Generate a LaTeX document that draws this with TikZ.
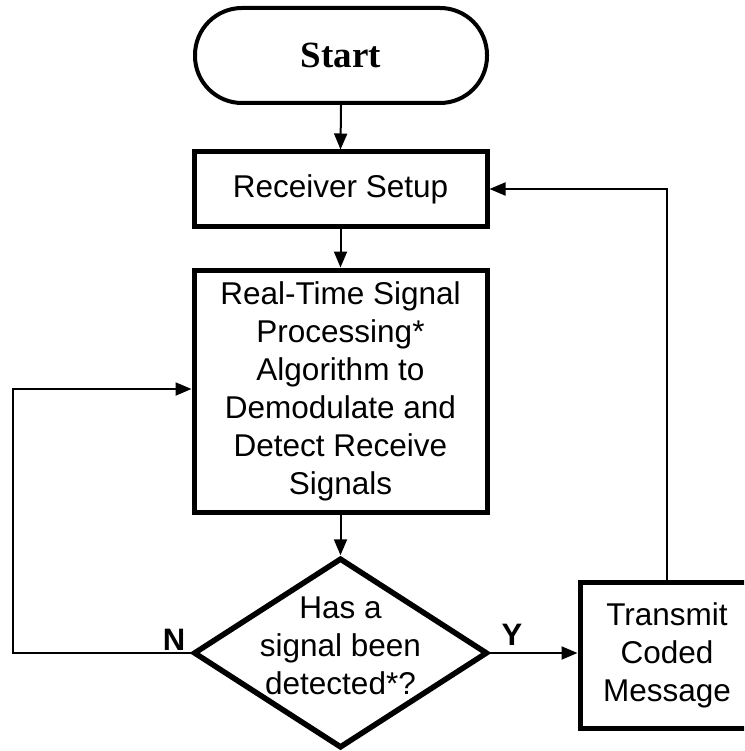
\documentclass[tikz,border=0pt]{standalone}
\usepackage{fontspec}
\setmainfont{Liberation Sans}
\newfontfamily\startfont{Liberation Serif}
\usetikzlibrary{arrows.meta,shapes.geometric}
\begin{document}
\begin{tikzpicture}[x=1pt,y=-1pt,
  box/.style={draw, line width=5pt, rectangle, align=center, inner sep=0pt, font=\fontsize{31.5}{38}\selectfont},
  term/.style={draw, line width=4pt, rounded corners=47pt, minimum width=292pt, minimum height=95pt, inner sep=0pt, font=\startfont\bfseries\fontsize{37}{44}\selectfont},
  decision/.style={draw, diamond, line width=5.5pt, minimum width=294pt, minimum height=190pt, inner sep=0pt},
  dtext/.style={align=center, inner sep=0pt, font=\fontsize{31.5}{38}\selectfont},
  conn/.style={line width=2pt, -{Triangle[length=16pt,width=13pt]}},
  yn/.style={font=\bfseries\fontsize{31}{36}\selectfont, inner sep=0pt}
]
\useasboundingbox (0,0) rectangle (744,751);
\clip (0,0) rectangle (744,751);
\fill[white] (0,0) rectangle (744,751);
\node[term] (start) at (341,55.5) {Start};
\node[box, minimum width=293pt, minimum height=74pt] (rs) at (340.5,189) {Receiver Setup};
\node[box, minimum width=293pt, minimum height=242pt] (real) at (340.5,391)
  {Real-Time Signal\\Processing*\\Algorithm to\\Demodulate and\\Detect Receive\\Signals};
\node[decision] (dec) at (340.5,653) {};
\node[dtext] (dectext) at (340.5,646) {Has a\\signal been\\detected*?};
\node[box, minimum width=174pt, minimum height=146pt] (tx) at (667,655) {Transmit\\Coded\\Message};
\node[yn] (nlab) at (174,640) {N};
\node[yn] (ylab) at (512,635) {Y};
\coordinate (nloop) at (13,389);
\draw[conn] (start.south) -- (rs.north);
\draw[conn] (rs.south) -- (real.north);
\draw[conn] (real.south) -- (dec.north);
\draw[conn] (dec.east) -- (dec.east -| tx.west);
\draw[conn] (tx.north) |- (rs.east);
\draw[conn] (dec.west) -| (nloop) -- (real.west |- nloop);
\end{tikzpicture}
\end{document}
